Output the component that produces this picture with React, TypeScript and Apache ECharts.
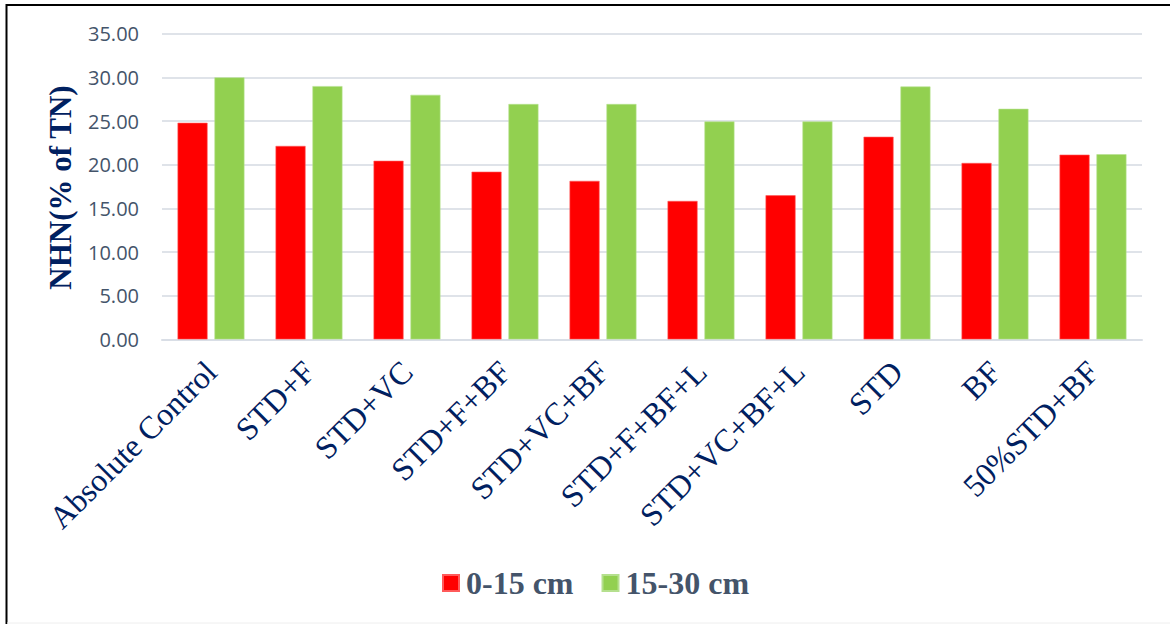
import React, { useEffect, useRef } from "react";
import * as echarts from "echarts";

const categories = [
  "Absolute Control",
  "STD+F",
  "STD+VC",
  "STD+F+BF",
  "STD+VC+BF",
  "STD+F+BF+L",
  "STD+VC+BF+L",
  "STD",
  "BF",
  "50%STD+BF",
];
const depth0to15 = [24.8, 22.15, 20.45, 19.2, 18.15, 15.85, 16.5, 23.2, 20.2, 21.15];
const depth15to30 = [30.0, 29.0, 28.0, 26.95, 26.95, 24.95, 24.95, 28.95, 26.4, 21.2];
const seriesNames = ["0-15 cm", "15-30 cm"];
const yTitle = "NHN(% of TN)";

export default function App() {
  const ref = useRef<HTMLDivElement>(null);
  useEffect(() => {
    if (!ref.current) return;
    const chart = echarts.init(ref.current, null, { renderer: "svg" });
    const serif = "'Liberation Serif', 'Times New Roman', serif";
    chart.setOption({
      animation: false,
      backgroundColor: "#ffffff",
      grid: { left: 162, right: 28, top: 33.7, bottom: 284.6, containLabel: false },
      legend: {
        data: seriesNames,
        left: 442,
        top: 567,
        padding: 0,
        icon: "rect",
        itemWidth: 16,
        itemHeight: 16,
        itemGap: 28,
        textStyle: {
          fontFamily: serif,
          fontWeight: "bold",
          fontSize: 32,
          color: "#44546A",
          padding: [0, 0, 0, 2],
        },
      },
      xAxis: {
        type: "category",
        data: categories,
        axisTick: { show: false },
        axisLine: { lineStyle: { color: "#D9DEE6", width: 2 } },
        axisLabel: {
          interval: 0,
          rotate: 45,
          margin: 27,
          fontFamily: serif,
          fontSize: 32,
          color: "#002060",
        },
      },
      yAxis: {
        type: "value",
        min: 0,
        max: 35,
        interval: 5,
        axisLine: { show: false },
        axisTick: { show: false },
        axisLabel: {
          margin: 23,
          fontFamily: "'Open Sans', 'Noto Sans', sans-serif",
          fontSize: 20,
          color: "#44546A",
          formatter: (v: number) => v.toFixed(2),
        },
        splitLine: { lineStyle: { color: "#DFE3E9", width: 2 } },
      },
      series: [
        {
          name: seriesNames[0],
          type: "bar",
          data: depth0to15,
          barWidth: 30,
          barGap: "23%",
          itemStyle: { color: "#FF0000", borderColor: "#FF5A5A", borderWidth: 0.6 },
        },
        {
          name: seriesNames[1],
          type: "bar",
          data: depth15to30,
          barWidth: 30,
          itemStyle: { color: "#92D050", borderColor: "#B5E08E", borderWidth: 0.6 },
        },
      ],
      graphic: [
        {
          type: "text",
          x: 60,
          y: 187.5,
          rotation: Math.PI / 2,
          style: {
            text: yTitle,
            fontFamily: serif,
            fontWeight: "bold",
            fontSize: 31,
            fill: "#002060",
            textAlign: "center",
            textVerticalAlign: "middle",
          },
        },
        {
          type: "line",
          shape: { x1: 6.5, y1: 5, x2: 1170, y2: 5 },
          style: { stroke: "#000000", lineWidth: 2 },
        },
        {
          type: "line",
          shape: { x1: 6.5, y1: 4, x2: 6.5, y2: 624 },
          style: { stroke: "#000000", lineWidth: 2 },
        },
        {
          type: "line",
          shape: { x1: 7, y1: 623, x2: 1170, y2: 623 },
          style: { stroke: "#EEEEEE", lineWidth: 1 },
        },
      ],
    });
    return () => chart.dispose();
  }, []);
  return (
    <div
      ref={ref}
      style={{ position: "absolute", left: 0, top: 0, width: 1170, height: 624 }}
    />
  );
}
